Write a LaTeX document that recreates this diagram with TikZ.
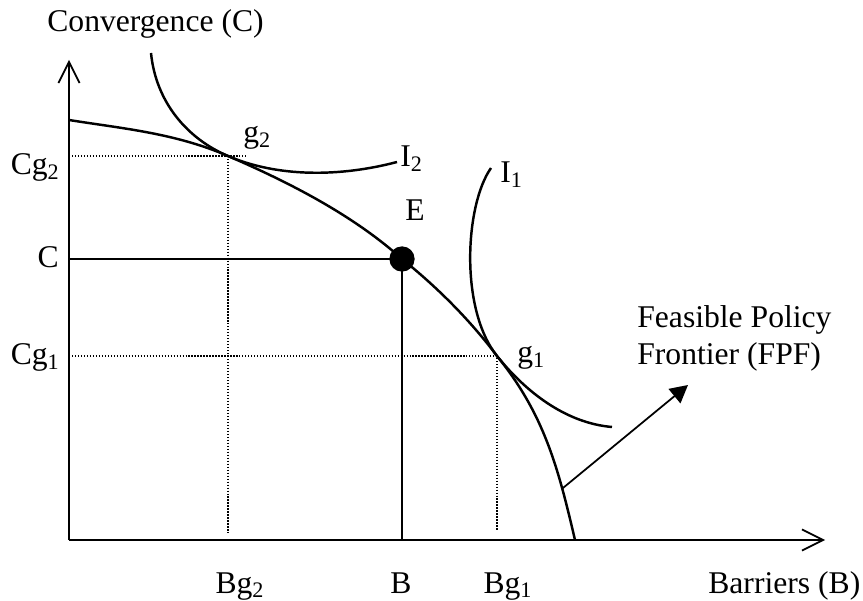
\documentclass[tikz,border=0pt]{standalone}
\usepackage{fontspec}
\setmainfont{Liberation Serif}
\usepackage{tikz}
\usetikzlibrary{arrows.meta,positioning}

\tikzset{
  axis/.style={line width=1pt,-{Straight Barb[length=12pt,width=12pt]}},
  curve/.style={line width=1.4pt},
  guide/.style={line width=0.7pt,dash pattern=on 0.7pt off 1pt},
  lbl/.style={inner sep=0pt,font=\fontsize{18}{21}\selectfont},
}

\begin{document}
\begin{tikzpicture}[x=0.02cm,y=-0.02cm]
  \useasboundingbox (0,0) rectangle (863,601);

  % axes
  \coordinate (O) at (69,540);
  \coordinate (ytop) at (69,60);
  \coordinate (xend) at (825,540);
  \draw[axis] (O) -- (ytop);
  \draw[axis] (O) -- (xend);

  % points on the frontier
  \coordinate (fstart) at (69,120);
  \coordinate (g2) at (228,156);
  \coordinate (E) at (402,259);
  \coordinate (g1) at (497,356);
  \coordinate (fend) at (575,540);

  % guides
  \coordinate (cg2) at (72,156);
  \coordinate (bg2) at (228,533);
  \coordinate (cg1) at (72,356);
  \coordinate (bg1) at (497,531);
  \coordinate (cC) at (69,259);
  \coordinate (cB) at (402,540);
  \draw[guide] (cg2) -- ([xshift=10]g2);
  \draw[guide] (g2) -- (bg2);
  \draw[guide] (cg1) -- (g1) -- (bg1);
  \draw[line width=1pt] (cC) -- (E) -- (cB);

  % feasible policy frontier
  \draw[curve] (fstart) .. controls +(53,8.5) and +(-53,-23) .. (g2)
    .. controls +(58,25) and +(-50,-45) .. (E)
    .. controls +(35,28) and +(-27,-36) .. (g1)
    .. controls +(47,58) and +(-17,-73) .. coordinate[pos=0.75] (fpfpt) (fend);

  % indifference curves
  \draw[curve] (151,53) .. controls +(5,50) and +(-40,-17) .. (g2)
    .. controls +(50,21.5) and +(-57,15) .. (397,162);
  \draw[curve] (491,168) .. controls +(-26,37) and +(-37.5,-47) .. (g1)
    .. controls +(28,35) and +(-47,-4) .. (612,427);

  \node (Edot) [circle,fill,minimum size=14.4pt,inner sep=0pt] at (E) {};

  % label to the frontier
  \coordinate (fpftip) at (688,385);
  \draw[line width=1pt,-{Triangle[length=10pt,width=10.5pt]}] (fpfpt) -- (fpftip);

  % labels
  \node[lbl,anchor=base west] (ylab) at (47,32) {Convergence (C)};
  \node[lbl,anchor=base west] (xlab) at (708,593) {Barriers (B)};
  \node[lbl,anchor=north west,align=left] (fpf) at (637,305) {Feasible Policy\\Frontier (FPF)};
  \node[lbl,anchor=base east] (lcg2) at (60,175) {Cg\textsubscript{2}};
  \node[lbl,anchor=base east] (lc) at (59,268) {C};
  \node[lbl,anchor=base east] (lcg1) at (60,365) {Cg\textsubscript{1}};
  \node[lbl,anchor=base] (lbg2) at (240,593) {Bg\textsubscript{2}};
  \node[lbl,anchor=base] (lb) at (401,593) {B};
  \node[lbl,anchor=base] (lbg1) at (508,593) {Bg\textsubscript{1}};
  \node[lbl,anchor=base west] (lg2) at (243,143) {g\textsubscript{2}};
  \node[lbl,anchor=base west] (lg1) at (517,363) {g\textsubscript{1}};
  \node[lbl,anchor=base west] (li2) at (400,167) {I\textsubscript{2}};
  \node[lbl,anchor=base west] (li1) at (500,183) {I\textsubscript{1}};
  \node[lbl,anchor=base west] (le) at (405,221) {E};
\end{tikzpicture}
\end{document}
